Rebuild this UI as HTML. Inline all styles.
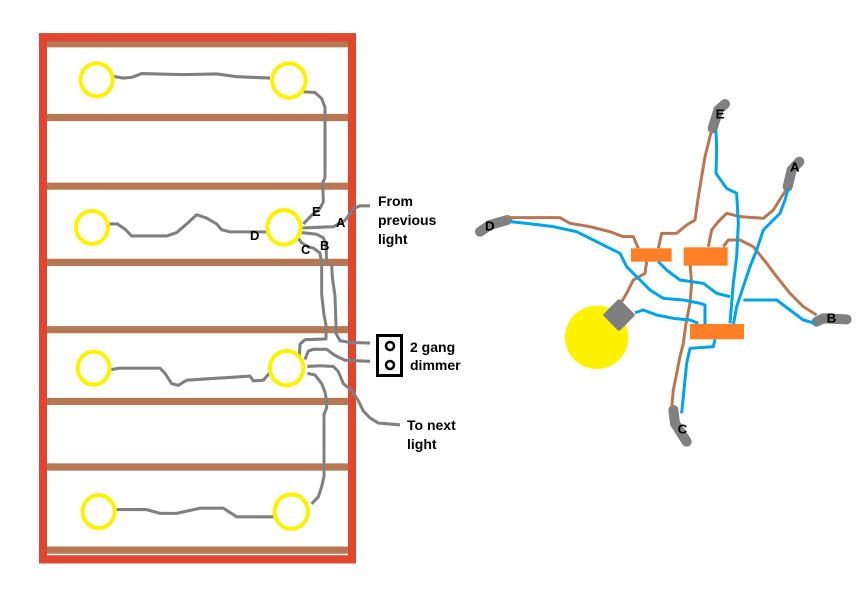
<!DOCTYPE html>
<html><head><meta charset="utf-8"><style>
html,body{margin:0;padding:0;background:#fff;width:864px;height:607px;overflow:hidden}
svg{display:block}
.t{font-family:"Liberation Sans",sans-serif;font-weight:bold;font-size:14px;fill:#000}
</style></head><body>
<svg width="864" height="607" viewBox="0 0 864 607" xmlns="http://www.w3.org/2000/svg">
<g transform="translate(30,30) scale(0.33333,0.3433)">
  <g stroke="#b87753" stroke-width="21">
    <line x1="50" y1="40" x2="955" y2="40"/>
    <line x1="50" y1="255" x2="955" y2="255"/>
    <line x1="50" y1="455" x2="955" y2="455"/>
    <line x1="50" y1="677" x2="950" y2="677" stroke-linecap="round"/>
    <line x1="50" y1="873" x2="955" y2="873"/>
    <line x1="50" y1="1082" x2="950" y2="1082" stroke-linecap="round"/>
    <line x1="50" y1="1273" x2="955" y2="1273"/>
    <line x1="50" y1="1515" x2="955" y2="1515"/>
  </g>
  <rect x="39" y="21" width="927" height="1521" fill="none" stroke="#e04530" stroke-width="24"/>
  <g fill="none" stroke="#808080" stroke-width="9" stroke-linejoin="round">
    <path d="M250 135 L280 140 L305 138 L335 127 L460 130 L560 128 L620 136 L720 140"/>
    <path d="M820 180 L855 182 L875 200 L885 225 L885 430 L878 445 L880 500 L870 520 L845 540 L820 565"/>
    <path d="M230 565 L262 565 L285 580 L305 600 L410 600 L440 590 L470 565 L500 538 L530 548 L560 565 L575 582 L600 588 L710 588"/>
    <path d="M810 577 L910 573 L945 555 L970 520 L990 512 L1020 512"/>
    <path d="M815 590 L860 595 L880 605 L888 625 L890 680"/>
    <path d="M800 600 L815 620 L835 632 L850 635 L870 650 L875 680 L875 770 L882 830 L888 860 L888 900 L825 902 L810 915 L808 950"/>
    <path d="M905 680 L907 720 L915 775 L918 860 L916 880 L930 905 L960 910 L1020 912"/>
    <path d="M825 960 L835 935 L850 930 L890 930 L915 948 L945 962 L1020 965"/>
    <path d="M832 980 L870 978 L910 980 L925 995 L940 1030 L965 1050 L985 1080 L1000 1110 L1020 1130 L1045 1145 L1110 1150"/>
    <path d="M832 1000 L855 1005 L875 1030 L885 1055 L890 1080 L890 1100 L882 1120 L882 1300 L875 1330 L865 1360 L845 1380"/>
    <path d="M238 990 L270 985 L390 985 L405 1000 L425 1030 L445 1035 L470 1020 L550 1015 L600 1012 L660 1008 L670 1022 L700 1020 L718 1000"/>
    <path d="M260 1397 L350 1397 L390 1408 L440 1408 L510 1393 L580 1393 L620 1418 L730 1418"/>
  </g>
  <g fill="none" stroke="#fff200" stroke-width="12">
    <circle cx="200" cy="145" r="48"/>
    <circle cx="777" cy="147" r="50"/>
    <circle cx="186" cy="575" r="48"/>
    <circle cx="762" cy="575" r="50"/>
    <circle cx="191" cy="985" r="48"/>
    <circle cx="770" cy="985" r="50"/>
    <circle cx="206" cy="1403" r="48"/>
    <circle cx="784" cy="1403" r="50"/>
  </g>
</g>
<g class="t" style="font-size:13px">
  <text x="312" y="216">E</text>
  <text x="336" y="227">A</text>
  <text x="250" y="240">D</text>
  <text x="301" y="254">C</text>
  <text x="320" y="250">B</text>
</g>
<rect x="377.5" y="335.5" width="24" height="40" fill="#fff" stroke="#000" stroke-width="3"/>
<circle cx="390" cy="346" r="4" fill="none" stroke="#000" stroke-width="2.5"/>
<circle cx="390" cy="365" r="4" fill="none" stroke="#000" stroke-width="2.5"/>
<text class="t" x="378" y="206">From</text>
<text class="t" x="378" y="225">previous</text>
<text class="t" x="378" y="244">light</text>
<text class="t" x="410" y="352">2 gang</text>
<text class="t" x="410" y="370">dimmer</text>
<text class="t" x="407" y="430">To next</text>
<text class="t" x="407" y="449">light</text>

<g transform="translate(470,90) scale(0.33333)">
  <circle cx="380" cy="742" r="95" fill="#fff200"/>
  <g fill="none" stroke="#808080" stroke-width="30" stroke-linecap="round">
    <path d="M765 42 L745 60 L728 115"/>
    <path d="M988 215 L965 240 L953 290"/>
    <path d="M30 425 L60 405 L112 390"/>
    <path d="M1040 695 L1060 685 L1130 688"/>
    <path d="M610 960 L615 1000 L650 1055"/>
  </g>
  <g fill="none" stroke="#b87753" stroke-width="9" stroke-linejoin="round">
    <path d="M110 383 L270 383 L300 400 L360 410 L420 425 L460 440 L490 440 L505 475"/>
    <path d="M530 515 L525 550 L490 570 L470 610 L455 635"/>
    <path d="M725 120 L715 160 L705 200 L695 260 L685 320 L675 390 L650 405 L620 430 L575 430 L565 475"/>
    <path d="M955 290 L935 320 L910 360 L880 385 L810 380 L770 370 L745 395 L725 420 L715 470"/>
    <path d="M760 470 L775 450 L810 450 L850 470 L890 520 L920 560 L960 610 L1000 650 L1040 675"/>
    <path d="M660 520 L665 580 L660 640 L648 700 L640 760 L630 800 L620 850 L610 900 L605 955"/>
  </g>
  <g fill="none" stroke="#00a2e8" stroke-width="9" stroke-linejoin="round">
    <path d="M120 395 L170 400 L250 410 L320 425 L370 450 L410 470 L450 490 L470 530 L510 570 L540 600 L580 625 L640 630 L690 640 L705 645 L705 705"/>
    <path d="M738 120 L740 180 L738 250 L770 295 L800 310 L805 400 L800 500 L790 580 L785 640 L780 700"/>
    <path d="M955 295 L945 330 L930 370 L880 420 L860 480 L840 530 L820 590 L800 650 L790 705"/>
    <path d="M565 515 L590 540 L630 570 L700 580 L740 610 L780 620"/>
    <path d="M820 630 L920 630 L960 660 L1000 690 L1035 700"/>
    <path d="M495 668 L520 660 L560 675 L610 685 L660 690 L685 700"/>
    <path d="M735 748 L730 770 L660 775 L650 820 L645 870 L640 920 L635 970"/>
  </g>
  <rect x="483" y="475" width="122" height="40" fill="#ff7f27"/>
  <rect x="641" y="472" width="132" height="55" fill="#ff7f27"/>
  <rect x="660" y="702" width="162" height="46" fill="#ff7f27"/>
  <rect x="412" y="640" width="70" height="70" rx="6" fill="#7f7f7f" transform="rotate(45 447 675)"/>
  <g font-family="Liberation Sans, sans-serif" font-weight="bold" font-size="40" fill="#000">
    <text x="737" y="85">E</text>
    <text x="960" y="245">A</text>
    <text x="45" y="422">D</text>
    <text x="1070" y="698">B</text>
    <text x="623" y="1030">C</text>
  </g>
</g>
</svg>
</body></html>
